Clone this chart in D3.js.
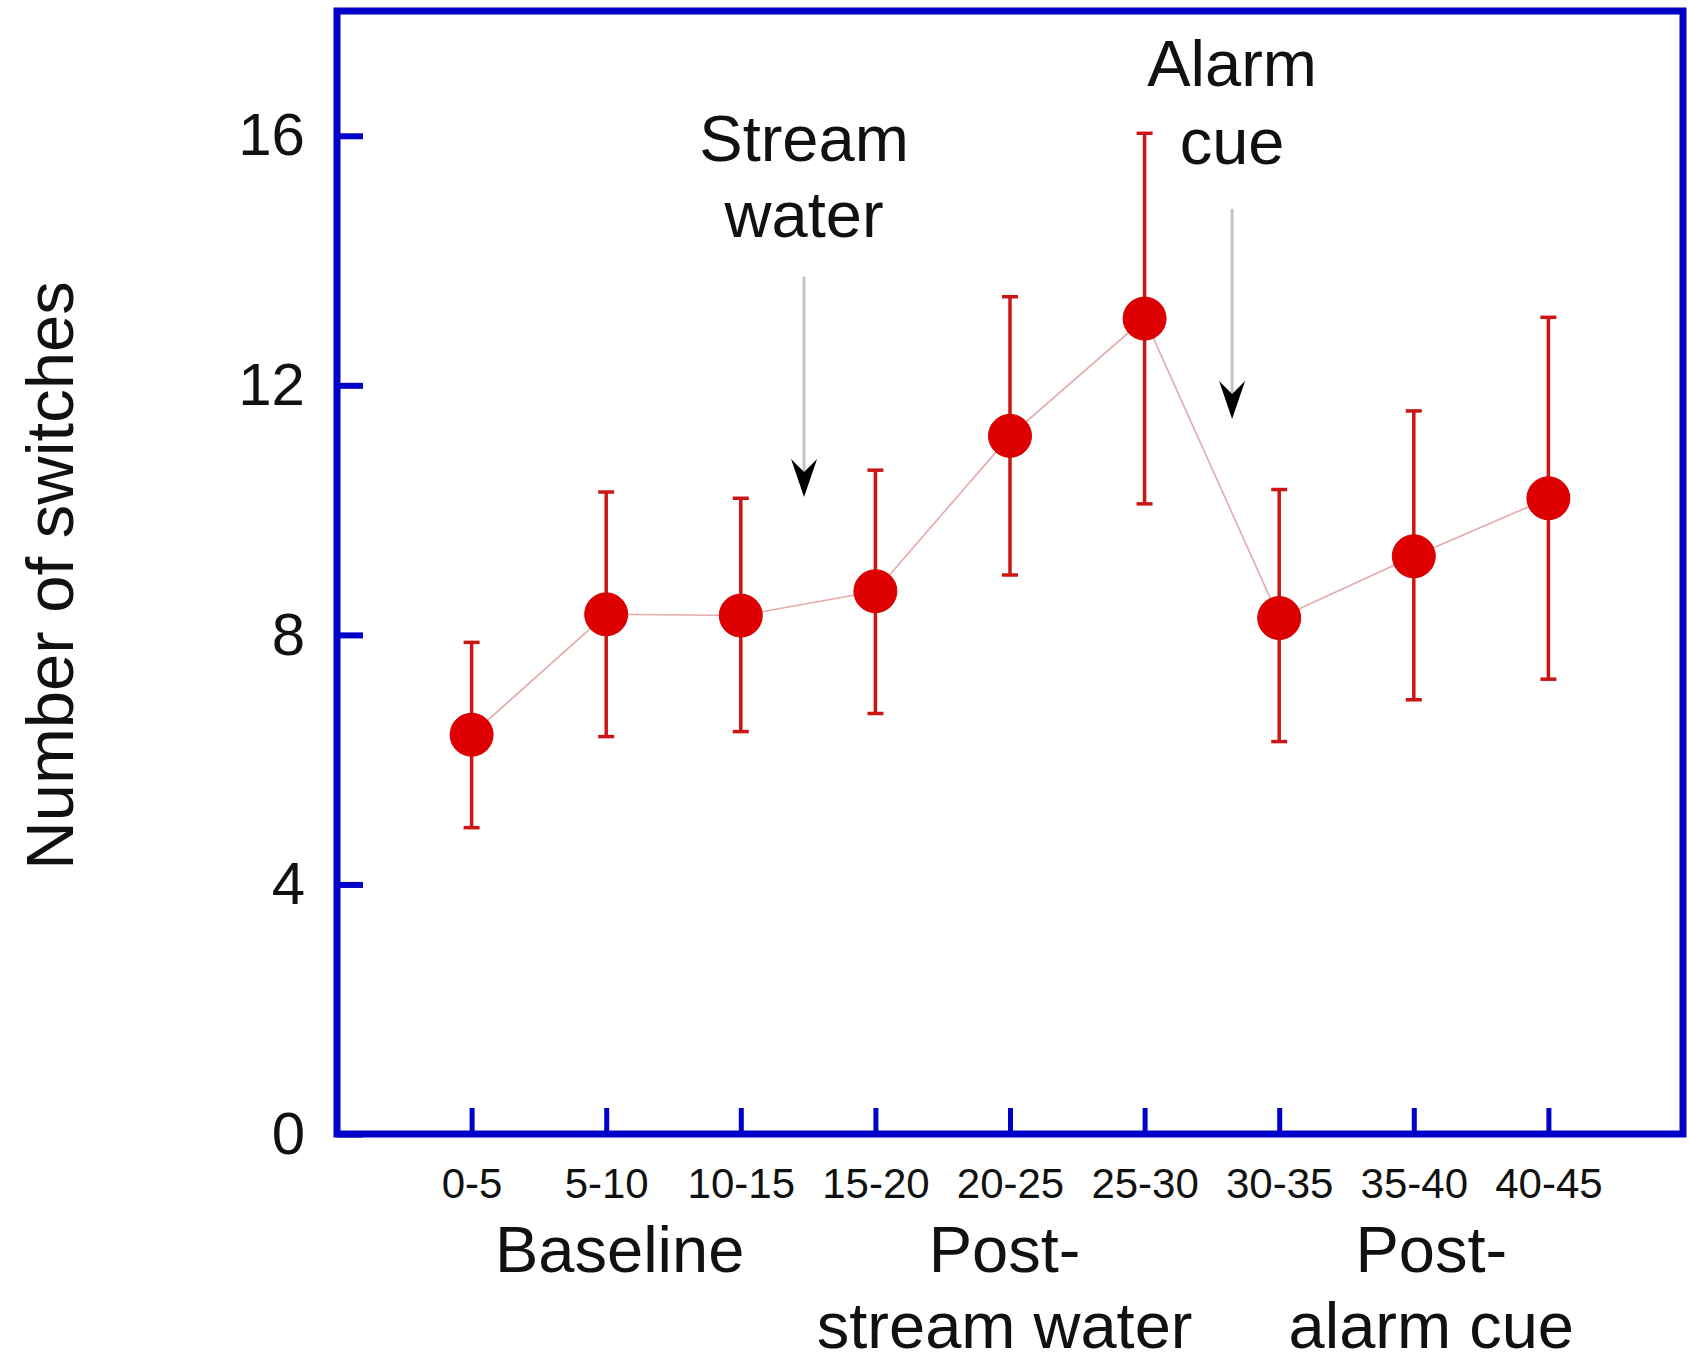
<!DOCTYPE html>
<html>
<head>
<meta charset="utf-8">
<script src="https://cdn.jsdelivr.net/npm/d3@7"></script>
<style>
  body { margin: 0; background: #fff; }
  svg text { font-family: "Liberation Sans", Arial, sans-serif; fill: #111; }
</style>
</head>
<body>
<script>
// data (minutes into trial)
const intervals = ["0-5", "5-10", "10-15", "15-20", "20-25", "25-30", "30-35", "35-40", "40-45"];
const meanSwitches = [6.40, 8.33, 8.31, 8.70, 11.19, 13.07, 8.27, 9.26, 10.19];
const lowerBar = [4.91, 6.37, 6.45, 6.74, 8.96, 10.10, 6.29, 6.96, 7.29];
const upperBar = [7.88, 10.29, 10.19, 10.64, 13.42, 16.04, 10.33, 11.59, 13.09];
const yTicks = [0, 4, 8, 12, 16];

// annotations: position in interval units, arrow top/tip and text baselines in y units
const annotations = [
  { lines: ["Stream", "water"], x: 2.47, top: 13.74, tip: 10.21, textY: [15.6, 14.38] },
  { lines: ["Alarm", "cue"], x: 5.65, top: 14.83, tip: 11.46, textY: [16.79, 15.55] }
];
const phases = [
  { lines: ["Baseline"], x: 1.1 },
  { lines: ["Post-", "stream water"], x: 3.96 },
  { lines: ["Post-", "alarm cue"], x: 7.13 }
];

const width = 1690, height = 1372;
const margin = { top: 11, right: 7, bottom: 238, left: 337 };
const blue = "#0000c8";

const data = intervals.map((d, i) => ({ label: d, i, mean: meanSwitches[i], lo: lowerBar[i], hi: upperBar[i] }));

const x = d3.scaleLinear().domain([-1, intervals.length]).range([margin.left, width - margin.right]);
const y = d3.scaleLinear().domain([0, 18]).range([height - margin.bottom, margin.top]);

const svg = d3.select("body").append("svg")
  .attr("width", width)
  .attr("height", height);

svg.append("rect").attr("width", width).attr("height", height).attr("fill", "#fff");

// frame
svg.append("rect")
  .attr("x", x.range()[0])
  .attr("y", y.range()[1])
  .attr("width", x.range()[1] - x.range()[0])
  .attr("height", y.range()[0] - y.range()[1])
  .attr("fill", "none")
  .attr("stroke", blue)
  .attr("stroke-width", 7);

// y axis
const yAxis = svg.append("g")
  .attr("transform", `translate(${margin.left},0)`)
  .call(d3.axisLeft(y).tickValues(yTicks).tickSize(-26).tickPadding(32).tickFormat(d3.format("d")));
yAxis.select(".domain").remove();
yAxis.selectAll(".tick line").attr("stroke", blue).attr("stroke-width", 6);
yAxis.selectAll(".tick text").attr("font-size", 60).attr("fill", "#111")
  .attr("font-family", "Liberation Sans, Arial, sans-serif");

// x axis
const xAxis = svg.append("g")
  .attr("transform", `translate(0,${height - margin.bottom})`)
  .call(d3.axisBottom(x).tickValues(d3.range(intervals.length)).tickSize(-26).tickPadding(34)
    .tickFormat(i => intervals[i]));
xAxis.select(".domain").remove();
xAxis.selectAll(".tick line").attr("stroke", blue).attr("stroke-width", 5);
xAxis.selectAll(".tick text").attr("font-size", 42).attr("fill", "#111")
  .attr("font-family", "Liberation Sans, Arial, sans-serif");

// y title
svg.append("text")
  .attr("transform", `translate(73,${(y(0) + y(18)) / 2 + 3}) rotate(-90)`)
  .attr("text-anchor", "middle")
  .attr("font-size", 67)
  .text("Number of switches");

// connecting line
svg.append("path")
  .datum(data)
  .attr("fill", "none")
  .attr("stroke", "#e6a9a9")
  .attr("stroke-width", 1.6)
  .attr("d", d3.line().x(d => x(d.i)).y(d => y(d.mean)));

// error bars
const eb = svg.append("g").attr("stroke", "#cc1515").attr("stroke-width", 3.5);
eb.selectAll(".bar").data(data).join("line")
  .attr("x1", d => x(d.i)).attr("x2", d => x(d.i))
  .attr("y1", d => y(d.lo)).attr("y2", d => y(d.hi));
eb.selectAll(".capTop").data(data).join("line")
  .attr("x1", d => x(d.i) - 8).attr("x2", d => x(d.i) + 8)
  .attr("y1", d => y(d.hi)).attr("y2", d => y(d.hi));
eb.selectAll(".capBot").data(data).join("line")
  .attr("x1", d => x(d.i) - 8).attr("x2", d => x(d.i) + 8)
  .attr("y1", d => y(d.lo)).attr("y2", d => y(d.lo));

// markers
svg.append("g").selectAll("circle").data(data).join("circle")
  .attr("cx", d => x(d.i))
  .attr("cy", d => y(d.mean))
  .attr("r", 21.5)
  .attr("fill", "#de0000")
  .attr("stroke", "#d40000")
  .attr("stroke-width", 1);

// arrows + annotation text
const ann = svg.append("g").selectAll("g").data(annotations).join("g");
ann.append("line")
  .attr("x1", d => x(d.x)).attr("x2", d => x(d.x))
  .attr("y1", d => y(d.top)).attr("y2", d => y(d.tip) - 20)
  .attr("stroke", "#c4c4c4").attr("stroke-width", 3);
ann.append("path")
  .attr("transform", d => `translate(${x(d.x)},${y(d.tip)})`)
  .attr("d", "M0,0 L-13,-38 L0,-25 L13,-38 Z")
  .attr("fill", "#000");
ann.each(function(d) {
  const g = d3.select(this);
  d.lines.forEach((t, k) => {
    g.append("text")
      .attr("x", x(d.x))
      .attr("y", y(d.textY[k]))
      .attr("text-anchor", "middle")
      .attr("font-size", 65)
      .text(t);
  });
});

// phase labels under the axis
const ph = svg.append("g").selectAll("g").data(phases).join("g");
ph.each(function(d) {
  const g = d3.select(this);
  d.lines.forEach((t, k) => {
    g.append("text")
      .attr("x", x(d.x))
      .attr("y", 1272 + k * 76)
      .attr("text-anchor", "middle")
      .attr("font-size", 65)
      .text(t);
  });
});
</script>
</body>
</html>
